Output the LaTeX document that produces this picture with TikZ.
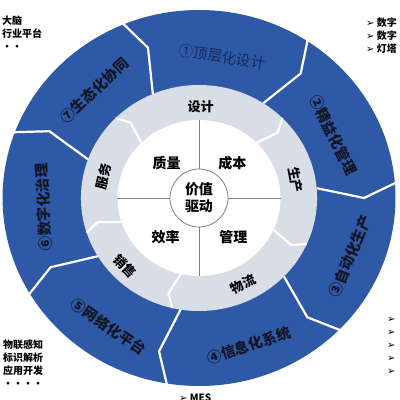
\documentclass[tikz,border=0pt]{standalone}
\usepackage{fontspec}
\setmainfont{Noto Sans CJK SC}
\newfontfamily\symfont{DejaVu Sans}
\usetikzlibrary{positioning}
\definecolor{ringblue}{RGB}{46,89,166}
\definecolor{ringgray}{RGB}{216,221,230}
\definecolor{linegray}{RGB}{120,130,145}
\definecolor{labelink}{RGB}{18,22,36}
\definecolor{navyink}{RGB}{24,40,92}
\tikzset{sep/.style={draw=white, line width=2.2pt, line join=miter},
  ringlbl/.style={font=\bfseries\fontsize{13}{13}\selectfont, inner sep=0pt},
  bluelbl/.style={font=\bfseries\fontsize{14.5}{14.5}\selectfont, text=labelink, inner sep=0pt},
  quadlbl/.style={font=\bfseries\fontsize{14}{14}\selectfont, inner sep=0pt},
  sidelbl/.style={font=\bfseries\fontsize{10}{13}\selectfont, inner sep=0pt, align=left}}
\newcommand{\tip}{{\symfont\fontsize{10}{13}\selectfont ➢}}

\begin{document}
\begin{tikzpicture}[x=1pt, y=1pt]
    \useasboundingbox[fill=white] (0,0) rectangle (400,400);

    \begin{scope}[shift={(199,202)}, xscale=1.045]
    \fill[ringblue] (0,0) circle (188);
    \fill[ringgray] (0,0) circle (113);
    \fill[white] (0,0) circle (78);

    \node[circle, draw=linegray, line width=0.8pt, minimum size=58pt, align=center,
          font=\bfseries\fontsize{14}{17}\selectfont, inner sep=0pt] (core) at (0,0) {价值\\驱动};
    \draw[linegray, line width=0.8pt] (core.north) -- (90:78);
    \draw[linegray, line width=0.8pt] (core.south) -- (-90:78);
    \draw[linegray, line width=0.8pt] (core.west) -- (180:78);
    \draw[linegray, line width=0.8pt] (core.east) -- (0:78);

    % outer ring borders
    \draw[sep] (57:192) -- (52:158) -- (57:113);
    \draw[sep] (113:192) -- (108:158) -- (113:113);
    \draw[sep] (160:192) -- (155:158) -- (160:113);
    \draw[sep] (-149:192) -- (-154:158) -- (-149:113);
    \draw[sep] (-99:192) -- (-104:158) -- (-99:113);
    \draw[sep] (-44:192) -- (-49:158) -- (-44:113);
    \draw[sep] (5:192) -- (0:158) -- (5:113);

    % inner ring borders
    \draw[sep] (45:113) -- (41:100) -- (45:78);
    \draw[sep] (135:113) -- (131:100) -- (135:78);
    \draw[sep] (-162:113) -- (-166:100) -- (-162:78);
    \draw[sep] (-103:113) -- (-107:100) -- (-103:78);
    \draw[sep] (-24:113) -- (-28:100) -- (-24:78);

    \node[quadlbl] (quality) at (-31,35) {质量};
    \node[quadlbl] (cost) at (32,35) {成本};
    \node[quadlbl] (efficiency) at (-32,-39) {效率};
    \node[quadlbl] (manage) at (33,-39) {管理};

    \node[ringlbl, rotate=-1] (design) at (89:91) {设计};
    \node[ringlbl, rotate=-79] (produce) at (11:94) {生产};
    \node[ringlbl, rotate=26] (logistics) at (-64:96) {物流};
    \node[ringlbl, rotate=-46] (sales) at (-136:98) {销售};
    \node[ringlbl, rotate=77] (service) at (167:94) {服务};

    \node[bluelbl, font=\fontsize{14.5}{14.5}\selectfont, text=navyink, rotate=-9] (topdesign) at (81:143) {①顶层化设计};
    \node[bluelbl, rotate=-64] (lean) at (26:143) {②精益化管理};
    \node[bluelbl, rotate=68] (auto) at (-22:156) {③自动化生产};
    \node[bluelbl, rotate=18] (info) at (-72:155) {④信息化系统};
    \node[bluelbl, rotate=-34] (network) at (-124:155) {⑤网络化平台};
    \node[bluelbl, rotate=93] (govern) at (183.5:149) {⑥数字化治理};
    \node[bluelbl, rotate=43] (eco) at (133:147) {⑦生态化协同};
    \end{scope}

    \node[sidelbl, anchor=north west] (brain) at (2,384) {大脑\\行业平台\\··};
    \node[sidelbl, anchor=north west] (iot) at (3,60) {物联感知\\标识解析\\应用开发\\····};
    \node[sidelbl, anchor=north west] (digital) at (366,382) {\tip\ 数字\\\tip\ 数字\\\tip\ 灯塔};
    \node[sidelbl, anchor=north west] (more) at (387,83) {\tip\\\tip\\\tip\\\tip\\\tip};
    \node[sidelbl, anchor=north west] (mes) at (179,6) {\tip\ MES};
\end{tikzpicture}
\end{document}
